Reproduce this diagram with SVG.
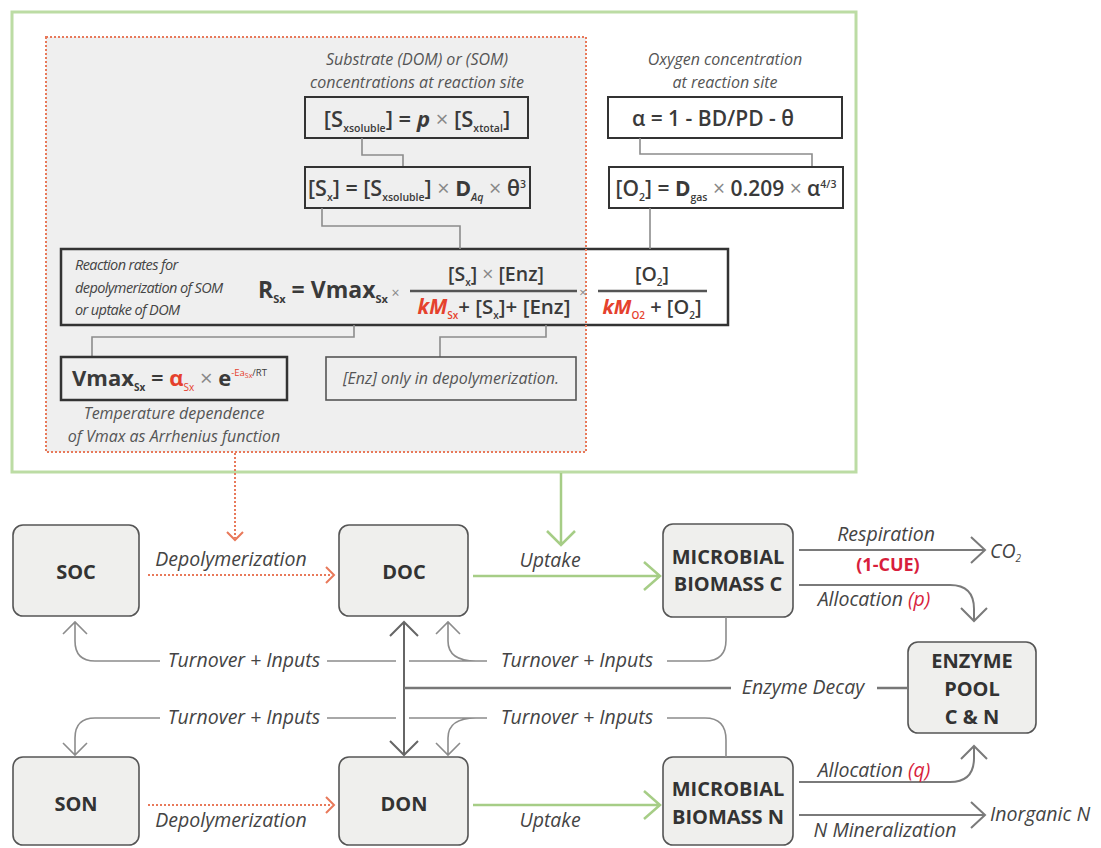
<svg xmlns="http://www.w3.org/2000/svg" width="1101" height="848" viewBox="0 0 1101 848">
<defs>
<style>
text { font-family: "Open Sans", "Liberation Sans", sans-serif; }
.lbl { font-style: italic; font-size: 19.5px; fill: #444; text-anchor: middle; }
.lbs { font-style: italic; font-size: 19.5px; fill: #444; }
.node { fill: #efefed; stroke: #555; stroke-width: 1.6; }
.nt { font-weight: 700; font-size: 20px; fill: #333; text-anchor: middle; }
.f { font-weight: 600; fill: #3a3a3a; }
.note { font-style: italic; font-size: 16px; fill: #555; text-anchor: middle; }
.sm { font-style: italic; font-size: 14.5px; fill: #444; letter-spacing: -0.6px; }
.fb { fill: none; stroke: #333; stroke-width: 2; }
.cg { fill: none; stroke: #8c8c8c; stroke-width: 1.6; }
.ca { fill: none; stroke: #7a7a7a; stroke-width: 2; }
.red { fill: #e5412d; }
.crim { fill: #d81e3c; }
.x { font-weight: 400; fill: #888; }
.green { fill: none; stroke: #a6cd86; stroke-width: 2.5; }
.dot { fill: none; stroke: #e8795a; stroke-width: 2; stroke-dasharray: 2 2; }
.head { fill: none; stroke: #e8795a; stroke-width: 2; }
</style>
</defs>
<rect width="1101" height="848" fill="#ffffff"/>

<g id="equations">
  <rect x="12" y="12" width="844" height="460" fill="none" stroke="#bcdca4" stroke-width="3"/>
  <rect x="46" y="37" width="540" height="415" fill="#efefef" stroke="none"/>
  <rect x="61" y="249" width="667" height="76" fill="none" stroke="#333" stroke-width="2.5"/>
  <rect x="46" y="37" width="540" height="415" class="dot"/>

  <text class="note" x="417" y="65">Substrate (DOM) or (SOM)</text>
  <text class="note" x="417" y="88">concentrations at reaction site</text>
  <rect class="fb" x="305" y="97" width="223" height="41"/>
  <text class="f" x="417" y="127" font-size="22" text-anchor="middle">[S<tspan font-size="10.5" dy="5">xsoluble</tspan><tspan dy="-5">] = </tspan><tspan font-style="italic" font-weight="700">p</tspan><tspan class="x"> × </tspan>[S<tspan font-size="10.5" dy="5">xtotal</tspan><tspan dy="-5">]</tspan></text>
  <path class="cg" d="M362,138 V155 H403 V167"/>
  <rect class="fb" x="305" y="167" width="225" height="41"/>
  <text class="f" x="417" y="196" font-size="21.5" text-anchor="middle">[S<tspan font-size="10.5" dy="5">x</tspan><tspan dy="-5">] = [S</tspan><tspan font-size="10.5" dy="5">xsoluble</tspan><tspan dy="-5">]</tspan><tspan class="x"> × </tspan><tspan font-weight="700">D</tspan><tspan font-size="10.5" font-style="italic" dy="5">Aq</tspan><tspan class="x" dy="-5"> × </tspan>θ<tspan font-size="10.5" dy="-8">3</tspan></text>
  <path class="cg" d="M322,208 V226 H460 V249"/>

  <text class="note" x="725" y="65">Oxygen concentration</text>
  <text class="note" x="725" y="88">at reaction site</text>
  <rect class="fb" x="608" y="97" width="234" height="41"/>
  <text class="f" x="632" y="126" font-size="21">α = 1 - BD/PD - θ</text>
  <path class="cg" d="M640,138 V154 H812 V167"/>
  <rect class="fb" x="609" y="167" width="234" height="41"/>
  <text class="f" x="726" y="196" font-size="21" text-anchor="middle">[O<tspan font-size="10.5" dy="5">2</tspan><tspan dy="-5">] = </tspan><tspan font-weight="700">D</tspan><tspan font-size="10.5" dy="5">gas</tspan><tspan class="x" dy="-5"> × </tspan>0.209<tspan class="x"> × </tspan>α<tspan font-size="10.5" dy="-8">4/3</tspan></text>
  <path class="cg" d="M650,208 V249"/>

  <text class="sm" x="75" y="270">Reaction rates for</text>
  <text class="sm" x="75" y="293">depolymerization of SOM</text>
  <text class="sm" x="75" y="315">or uptake of DOM</text>
  <text x="258" y="298" font-size="23" font-weight="700" fill="#3a3a3a">R<tspan font-size="11" dy="5">Sx</tspan><tspan dy="-5"> = Vmax</tspan><tspan font-size="11" dy="5">Sx</tspan><tspan class="x" font-size="14" dy="-5"> ×</tspan></text>
  <text class="f" x="496" y="281" font-size="19.5" text-anchor="middle">[S<tspan font-size="10" dy="5">x</tspan><tspan dy="-5">]</tspan><tspan class="x"> × </tspan>[Enz]</text>
  <line x1="410" y1="291" x2="577" y2="291" stroke="#555" stroke-width="2.5"/>
  <text class="f" x="494" y="314" font-size="20.5" text-anchor="middle"><tspan class="red" font-style="italic" font-weight="700">kM</tspan><tspan class="red" font-size="10" dy="5">Sx</tspan><tspan dy="-5">+ [S</tspan><tspan font-size="10" dy="5">x</tspan><tspan dy="-5">]+ [Enz]</tspan></text>
  <text class="x" x="583" y="297" font-size="13" text-anchor="middle">×</text>
  <text class="f" x="652" y="281" font-size="19.5" text-anchor="middle">[O<tspan font-size="10" dy="5">2</tspan><tspan dy="-5">]</tspan></text>
  <line x1="598" y1="291" x2="707" y2="291" stroke="#555" stroke-width="2.5"/>
  <text class="f" x="652" y="314" font-size="20" text-anchor="middle"><tspan class="red" font-style="italic" font-weight="700">kM</tspan><tspan class="red" font-size="10" dy="5">O2</tspan><tspan dy="-5"> + [O</tspan><tspan font-size="10" dy="5">2</tspan><tspan dy="-5">]</tspan></text>

  <path class="cg" d="M354,325 V337 H92 V357"/>
  <path class="cg" d="M546,325 V337 H440 V357"/>
  <rect x="61" y="357" width="226" height="43" fill="none" stroke="#333" stroke-width="2.5"/>
  <text x="72" y="386" font-size="22" fill="#3a3a3a"><tspan font-weight="700">Vmax</tspan><tspan font-size="10" font-weight="700" dy="5">Sx</tspan><tspan font-weight="600" dy="-5"> = </tspan><tspan class="red" font-weight="700">α</tspan><tspan class="red" font-size="10" dy="5">Sx</tspan><tspan class="x" dy="-5"> × </tspan><tspan font-weight="700">e</tspan><tspan font-size="9.5" dy="-10"><tspan class="red">-Ea</tspan><tspan class="red" font-size="7" dy="2">Sx</tspan><tspan dy="-2">/RT</tspan></tspan></text>
  <rect x="326" y="357" width="250" height="43" fill="none" stroke="#555" stroke-width="1.6"/>
  <text class="note" x="451" y="384" font-size="17">[Enz] only in depolymerization.</text>
  <text class="note" x="174" y="419" font-size="17">Temperature dependence</text>
  <text class="note" x="174" y="442" font-size="17">of Vmax as Arrhenius function</text>
</g>

<g id="SOC"><rect class="node" x="13" y="525" width="126" height="91" rx="10"/><text class="nt" x="76" y="579">SOC</text></g>
<g id="DOC"><rect class="node" x="339" y="525" width="129" height="91" rx="10"/><text class="nt" x="404" y="579">DOC</text></g>
<g id="MBC"><rect class="node" x="663" y="524" width="130" height="93" rx="10"/><text class="nt" x="728" y="564">MICROBIAL</text><text class="nt" x="728" y="591">BIOMASS C</text></g>
<g id="ENZ"><rect class="node" x="908" y="642" width="128" height="91" rx="10"/><text class="nt" x="972" y="668">ENZYME</text><text class="nt" x="972" y="696">POOL</text><text class="nt" x="972" y="724">C &amp; N</text></g>
<g id="SON"><rect class="node" x="13" y="757" width="126" height="88" rx="10"/><text class="nt" x="76" y="811">SON</text></g>
<g id="DON"><rect class="node" x="339" y="757" width="129" height="88" rx="10"/><text class="nt" x="404" y="811">DON</text></g>
<g id="MBN"><rect class="node" x="663" y="757" width="130" height="88" rx="10"/><text class="nt" x="728" y="796">MICROBIAL</text><text class="nt" x="728" y="824">BIOMASS N</text></g>

<g id="connectors">
  <path class="dot" d="M235,453 V538"/>
  <path class="head" d="M227,532 L235,540 L243,532"/>
  <path class="green" d="M561,473 V544 M547,531 L561,545 L575,531"/>
  <path class="dot" d="M148,575 H332"/>
  <path class="head" d="M326,567 L334,575 L326,583"/>
  <path class="green" d="M473,576 H659 M644,562 L660,576 L644,590"/>
  <path class="dot" d="M148,805 H332"/>
  <path class="head" d="M326,797 L334,805 L326,813"/>
  <path class="green" d="M473,805 H659 M644,791 L660,805 L644,819"/>
  <path class="ca" d="M799,550 H984 M971,537 L985,550 L971,563"/>
  <path class="ca" d="M799,585 H950 Q974,585 974,609 V621 M961,608 L974,621 L987,608"/>
  <path class="ca" d="M799,782 H950 Q974,782 974,758 V746 M961,759 L974,746 L987,759"/>
  <path class="ca" d="M799,815 H984 M971,802 L985,815 L971,828"/>
  <path class="cg" d="M726,617 V640 Q726,661 705,661 H667 M487,661 H409 M396,661 H327 M476,661 Q448,661 448,641 V622 M436,634 L448,622 L460,634 M160,661 H95 Q75,661 75,641 V622 M63,634 L75,622 L87,634"/>
  <path class="cg" d="M726,757 V740 Q726,718 705,718 H667 M487,718 H409 M396,718 H327 M476,718 Q448,718 448,738 V755 M436,743 L448,755 L460,743 M160,718 H95 Q75,718 75,738 V755 M63,743 L75,755 L87,743"/>
  <path fill="none" stroke="#666" stroke-width="2" d="M404,622 V755 M390,636 L404,622 L418,636 M390,741 L404,755 L418,741"/>
  <path fill="none" stroke="#777" stroke-width="2.5" d="M404,688 H731 M877,688 H908"/>

  <text class="lbl" x="231" y="566">Depolymerization</text>
  <text class="lbl" x="550" y="567">Uptake</text>
  <text class="lbl" x="886" y="541">Respiration</text>
  <text x="888" y="571" font-size="18" font-weight="700" class="crim" text-anchor="middle">(1-CUE)</text>
  <text class="lbs" x="990" y="558">CO<tspan font-size="10" dy="4">2</tspan></text>
  <text class="lbl" x="874" y="606">Allocation <tspan class="crim">(p)</tspan></text>
  <text class="lbl" x="244" y="667">Turnover + Inputs</text>
  <text class="lbl" x="577" y="667">Turnover + Inputs</text>
  <text class="lbl" x="803" y="694">Enzyme Decay</text>
  <text class="lbl" x="244" y="724">Turnover + Inputs</text>
  <text class="lbl" x="577" y="724">Turnover + Inputs</text>
  <text class="lbl" x="874" y="777">Allocation <tspan class="crim">(q)</tspan></text>
  <text class="lbs" x="990" y="821">Inorganic N</text>
  <text class="lbl" x="885" y="837">N Mineralization</text>
  <text class="lbl" x="231" y="827">Depolymerization</text>
  <text class="lbl" x="550" y="827">Uptake</text>
</g>
</svg>
